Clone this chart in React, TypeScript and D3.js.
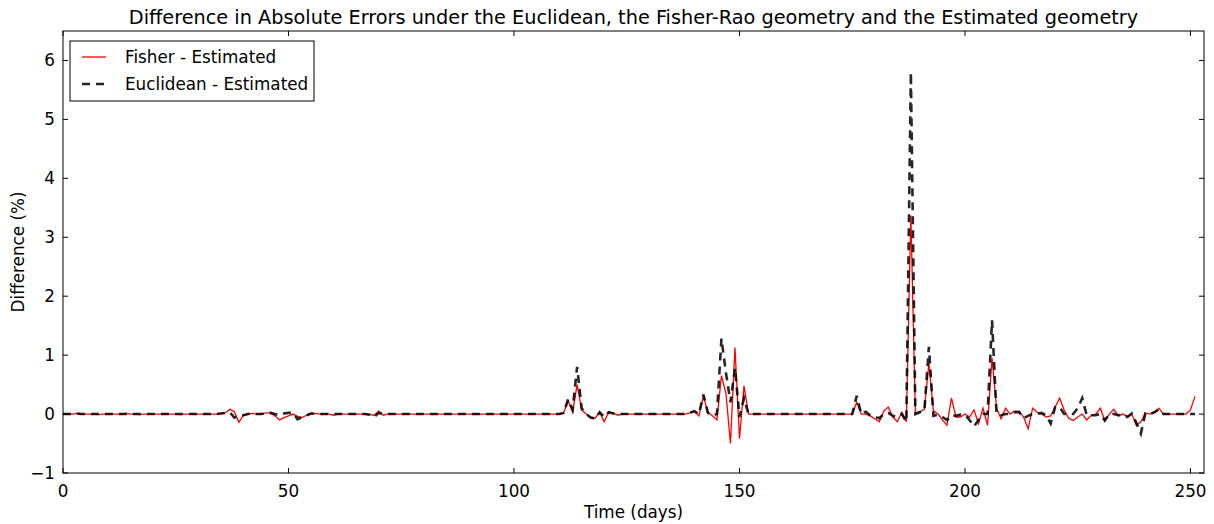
import React from "react";
import * as d3 from "d3";

const days: number[] = d3.range(0, 252);

// Fisher - Estimated
const fisherDiff: number[] = [
  0, 0, 0, 0.01, 0, 0, 0, 0, -0.01, 0,
  0, 0, 0, 0, 0.01, 0, 0, -0.01, 0, 0,
  0, 0, 0, 0, 0, 0, -0.01, 0, 0, 0,
  0, 0, 0, 0, 0, 0.01, 0.02, 0.08, 0.04, -0.14,
  -0.02, 0, 0.01, 0, 0, 0.02, 0.02, -0.03, -0.1, -0.06,
  -0.03, 0, -0.04, -0.06, -0.02, 0, 0.01, 0, 0, 0,
  -0.02, 0, 0, 0, 0, 0, 0, 0, -0.01, -0.02,
  0.05, -0.02, 0, 0, 0, 0, 0, 0, 0, 0,
  0, 0, 0, 0, 0, 0, 0, 0, 0, 0,
  0, 0, 0, 0, 0, 0, 0, 0, 0, 0,
  0, 0, 0, 0, 0, 0, 0, 0, 0, 0,
  0, 0.02, 0.23, 0.03, 0.5, 0.07, 0, -0.05, -0.07, 0.03,
  -0.13, 0.03, 0.02, -0.02, 0, 0, 0, 0, 0, 0,
  0, 0, 0, 0, 0, 0, 0, 0, 0, 0.02,
  0.05, -0.03, 0.31, 0.03, -0.03, -0.1, 0.65, 0.35, -0.5, 1.13,
  -0.42, 0.48, 0, 0, 0, 0, 0, 0, 0, 0,
  0, 0, 0, 0, 0, 0, 0, 0, 0, 0,
  0, 0, 0, 0, 0, 0, 0.2, 0, 0, -0.03,
  -0.08, -0.13, 0.05, 0.12, -0.05, -0.13, 0.03, -0.13, 3.37, 0.02,
  0.04, 0.08, 0.86, 0.05, 0, -0.1, -0.19, 0.27, -0.05, -0.05,
  0, -0.05, 0.07, -0.16, 0.1, -0.19, 0.95, 0.1, -0.08, 0.1,
  0, 0.05, 0.05, -0.05, -0.25, 0.1, 0.03, 0, -0.05, -0.03,
  0.12, 0.27, 0.07, -0.07, -0.11, -0.05, 0, -0.1, -0.02, 0,
  0.1, -0.11, 0, 0.08, -0.03, 0, -0.04, 0, -0.19, -0.13,
  0.02, 0, 0.03, 0.1, 0, 0, 0, 0, 0, 0,
  0.07, 0.3,
];

// Euclidean - Estimated
const euclidDiff: number[] = [
  0, 0, 0, 0.01, 0, 0, 0, 0, 0, 0,
  0, 0, 0, 0, 0, 0, 0, 0, 0, 0,
  0, 0, 0, 0, 0, 0, 0, 0, 0, 0,
  0, 0, 0, 0, 0, 0.01, 0.02, 0.03, -0.06, -0.03,
  -0.02, 0, 0.01, 0, 0, 0.02, 0.02, 0, -0.02, 0.01,
  0.02, 0.02, -0.09, -0.05, -0.02, 0.01, 0.01, 0, 0, 0,
  0, 0, 0, 0, 0, 0, 0, 0, -0.01, -0.05,
  0.02, 0, 0, 0, 0, 0, 0, 0, 0, 0,
  0, 0, 0, 0, 0, 0, 0, 0, 0, 0,
  0, 0, 0, 0, 0, 0, 0, 0, 0, 0,
  0, 0, 0, 0, 0, 0, 0, 0, 0, 0,
  0, 0.02, 0.25, 0.08, 0.8, 0.1, 0, -0.06, -0.08, 0.03,
  -0.05, 0.03, 0.01, 0, 0, 0, 0, 0, 0, 0,
  0, 0, 0, 0, 0, 0, 0, 0, 0, 0.02,
  0.05, 0, 0.33, 0.02, -0.02, 0, 1.28, 0.7, 0.2, 0.78,
  -0.05, 0.27, 0, 0, 0, 0, 0, 0, 0, 0,
  0, 0, 0, 0, 0, 0, 0, 0, 0, 0,
  0, 0, 0, 0, 0, 0, 0.31, 0, 0.04, -0.02,
  -0.05, -0.07, 0, 0.02, -0.03, -0.05, 0, -0.13, 5.8, 0,
  0.03, 0.06, 1.14, -0.03, -0.01, -0.05, -0.1, -0.02, -0.03, -0.01,
  -0.01, -0.1, -0.21, -0.1, 0, 0, 1.59, 0, -0.02, 0,
  0, 0.03, 0.03, -0.07, -0.03, 0, 0, 0.02, -0.02, -0.16,
  0.12, 0.12, 0, 0, 0, 0.1, 0.27, -0.02, -0.02, -0.02,
  0, -0.11, 0, 0, -0.02, -0.01, -0.05, 0.01, -0.15, -0.33,
  0.01, 0, 0.03, 0.08, 0, 0, 0, 0, 0, 0,
  0, 0,
];

const xTicks: number[] = [0, 50, 100, 150, 200, 250];
const yTicks: number[] = [-1, 0, 1, 2, 3, 4, 5, 6];
const seriesNames: string[] = ["Fisher - Estimated", "Euclidean - Estimated"];
const titleText =
  "Difference in Absolute Errors under the Euclidean, the Fisher-Rao geometry and the Estimated geometry";

const W = 1214;
const H = 524;
const L = 63;
const R = 1204;
const T = 31;
const B = 473;
const FONT = "'DejaVu Sans', sans-serif";
const FS = 16.8;

export default function App() {
  const x = d3.scaleLinear().domain([0, 253]).range([L, R]);
  const y = d3.scaleLinear().domain([-1, 6.5]).range([B, T]);
  const line = d3
    .line<number>()
    .x((_, i) => x(days[i]))
    .y((v) => y(v));
  const fmt = (v: number) => (v < 0 ? "\u2212" + Math.abs(v) : String(v));
  const tl = 5;
  return (
    <svg
      width={W}
      height={H}
      style={{ position: "absolute", left: 0, top: 0, background: "#fff" }}
      fontFamily={FONT}
    >
      <rect x={0} y={0} width={W} height={H} fill="#fff" />
      <defs>
        <clipPath id="plotclip">
          <rect x={L} y={T} width={R - L} height={B - T} />
        </clipPath>
      </defs>
      <text x={(L + R) / 2} y={24} textAnchor="middle" fontSize={19.3} fill="#000">
        {titleText}
      </text>
      <g clipPath="url(#plotclip)">
        <path d={line(fisherDiff) || ""} fill="none" stroke="#ff0000" strokeWidth={1.3} />
        <path
          d={line(euclidDiff) || ""}
          fill="none"
          stroke="#000"
          strokeWidth={2.6}
          strokeDasharray="8,6"
          opacity={0.85}
        />
      </g>
      <rect x={L} y={T} width={R - L} height={B - T} fill="none" stroke="#000" strokeWidth={1} />
      {xTicks.map((t) => (
        <g key={"x" + t}>
          <line x1={x(t)} x2={x(t)} y1={B} y2={B - tl} stroke="#000" />
          <line x1={x(t)} x2={x(t)} y1={T} y2={T + tl} stroke="#000" />
          <text x={x(t)} y={497} textAnchor="middle" fontSize={FS} fill="#000">
            {fmt(t)}
          </text>
        </g>
      ))}
      {yTicks.map((t) => (
        <g key={"y" + t}>
          <line x1={L} x2={L + tl} y1={y(t)} y2={y(t)} stroke="#000" />
          <line x1={R} x2={R - tl} y1={y(t)} y2={y(t)} stroke="#000" />
          <text x={55} y={y(t) + 6} textAnchor="end" fontSize={FS} fill="#000">
            {fmt(t)}
          </text>
        </g>
      ))}
      <text x={(L + R) / 2} y={518} textAnchor="middle" fontSize={FS} fill="#000">
        Time (days)
      </text>
      <text
        transform={`translate(24, ${(T + B) / 2}) rotate(-90)`}
        textAnchor="middle"
        fontSize={FS}
        fill="#000"
      >
        Difference (%)
      </text>
      <g>
        <rect x={70} y={41} width={244} height={60} fill="#fff" stroke="#000" strokeWidth={1} />
        <line x1={82} x2={106} y1={57} y2={57} stroke="#ff0000" strokeWidth={1.3} />
        <line x1={82} x2={106} y1={84} y2={84} stroke="#000" strokeWidth={2.6} strokeDasharray="8,6" opacity={0.85} />
        <text x={125} y={63} fontSize={FS} fill="#000">
          {seriesNames[0]}
        </text>
        <text x={125} y={90} fontSize={FS} fill="#000">
          {seriesNames[1]}
        </text>
      </g>
    </svg>
  );
}
